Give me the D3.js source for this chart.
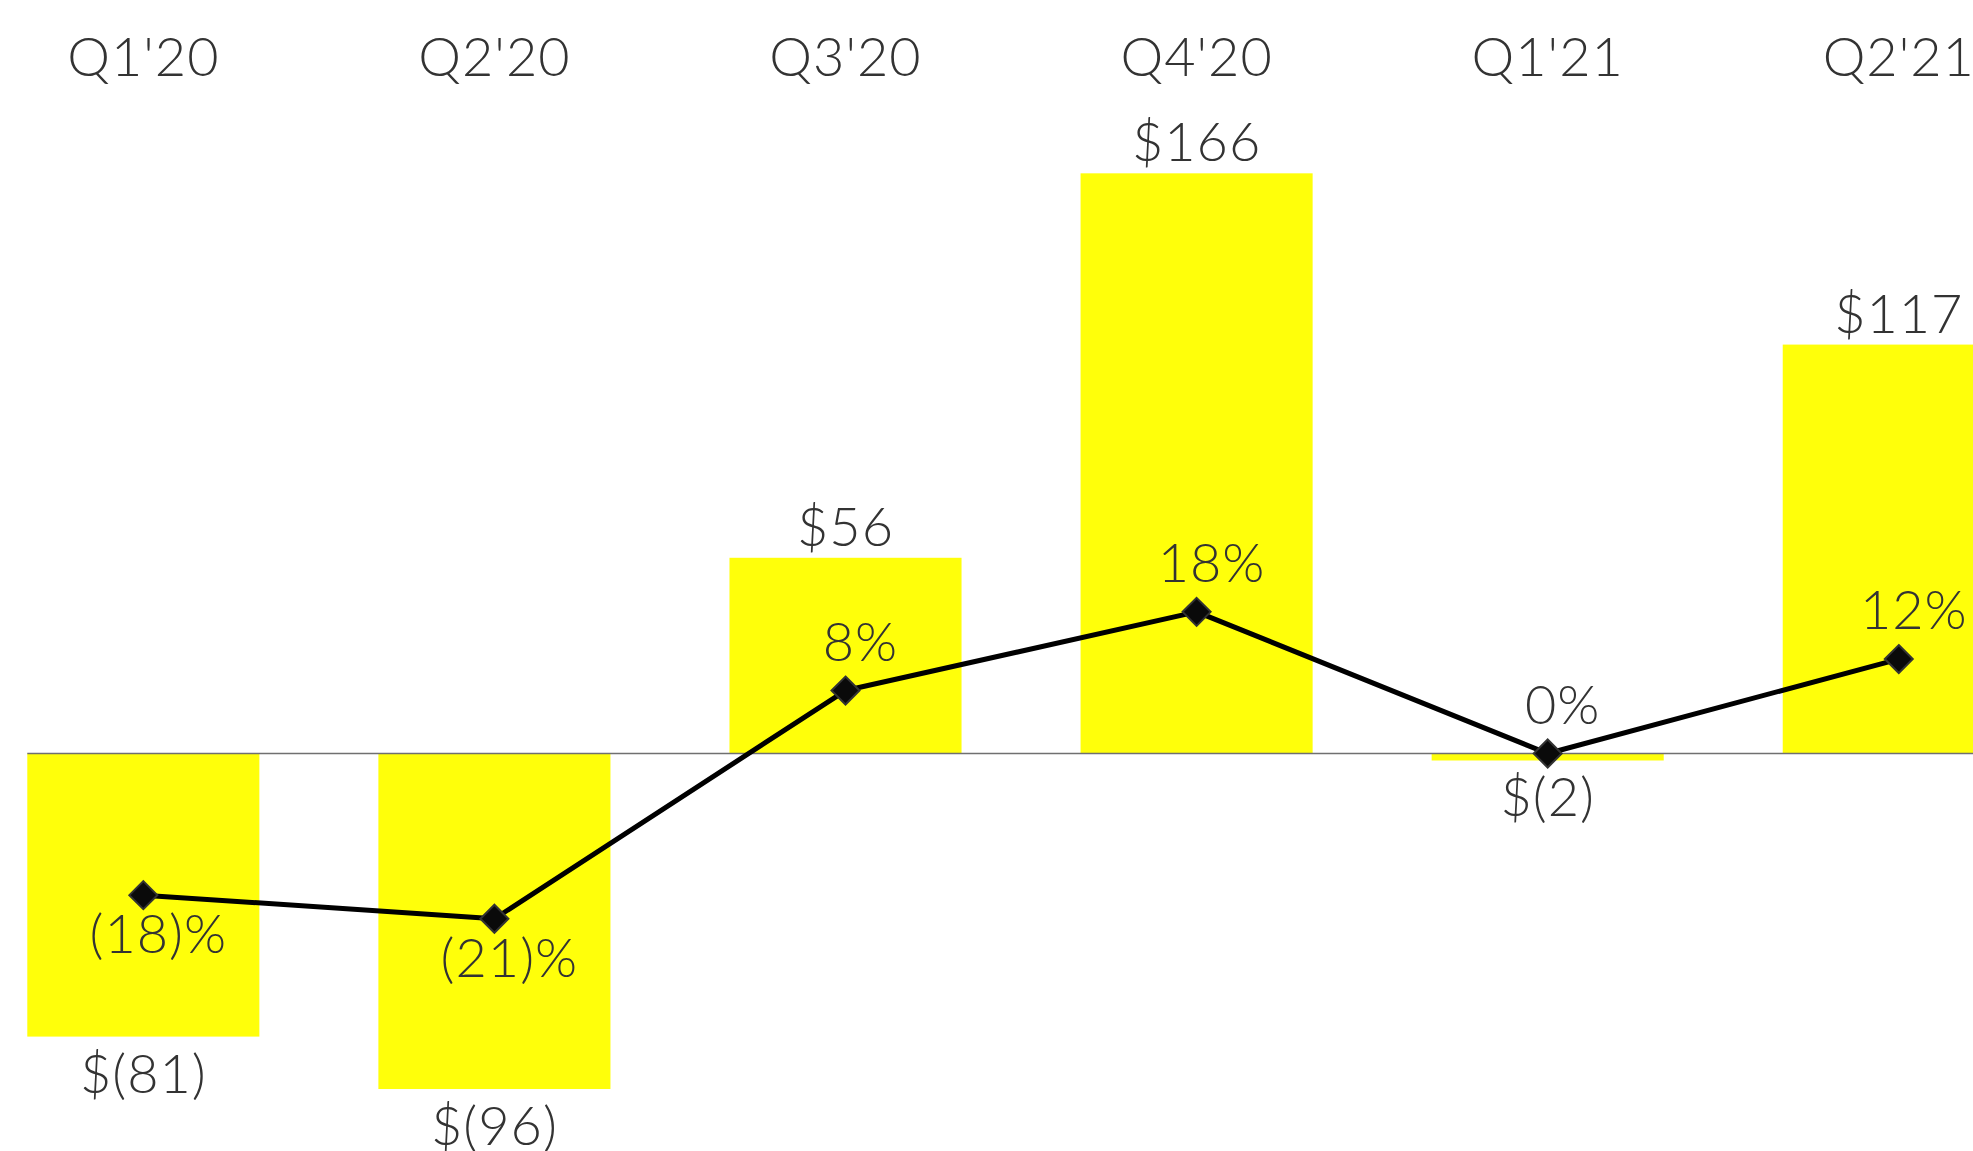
<html>
  <head>
    <script src="https://d3js.org/d3.v7.min.js"></script>
    <style>
      body { margin: 0; background: #fff; overflow: hidden; }
      text { font-family: Lato, "Noto Sans", sans-serif; font-weight: 300; fill: #333; letter-spacing: 1px; }
    </style>
  </head>
  <body>
    <svg id="chart" width="1973" height="1151"></svg>
    <script>
      // quarters, adjusted EBITDA ($M) and margin (%)
      const quarters = ["Q1'20", "Q2'20", "Q3'20", "Q4'20", "Q1'21", "Q2'21"];
      const ebitda = [-81, -96, 56, 166, -2, 117];
      const margin = [-18, -21, 8, 18, 0, 12];

      const svg = d3.select("#chart");

      // band scale runs past the right edge, last bar is clipped like the original
      const x = d3.scaleBand()
        .domain(quarters)
        .range([-32.25, 2074.35])
        .paddingInner(0.339)
        .paddingOuter(0.1696);

      const y = d3.scaleLinear().domain([-100, 200]).range([1103, 54.5]);
      const y2 = d3.scaleLinear().domain([-30, 30]).range([989.6, 517.4]);

      const cx = (d) => x(d) + x.bandwidth() / 2;
      const money = (v) => (v < 0 ? "$(" + Math.abs(v) + ")" : "$" + v);
      const pct = (v) => (v < 0 ? "(" + Math.abs(v) + ")%" : v + "%");

      const data = quarters.map((q, i) => ({ q: q, v: ebitda[i], m: margin[i] }));

      // bars
      svg.append("g")
        .selectAll("rect")
        .data(data)
        .join("rect")
        .attr("x", (d) => x(d.q))
        .attr("width", x.bandwidth())
        .attr("y", (d) => y(Math.max(0, d.v)))
        .attr("height", (d) => Math.abs(y(d.v) - y(0)))
        .style("fill", "#ffff0a");

      // zero line
      svg.append("line")
        .attr("x1", x(quarters[0]))
        .attr("x2", 1973)
        .attr("y1", y(0))
        .attr("y2", y(0))
        .style("stroke", "#707070")
        .style("stroke-width", 1.5);

      // category labels along the top
      svg.append("g")
        .selectAll("text")
        .data(quarters)
        .join("text")
        .attr("x", (d) => cx(d))
        .attr("y", 76)
        .attr("text-anchor", "middle")
        .style("font-size", "54px")
        .text((d) => d);

      // bar value labels
      svg.append("g")
        .selectAll("text")
        .data(data)
        .join("text")
        .attr("x", (d) => cx(d.q))
        .attr("y", (d) => (d.v < 0 ? y(d.v) + 56 : y(d.v) - 12))
        .attr("text-anchor", "middle")
        .style("font-size", "54px")
        .text((d) => money(d.v));

      // margin line
      const line = d3.line()
        .x((d) => cx(d.q))
        .y((d) => y2(d.m));

      svg.append("path")
        .datum(data)
        .attr("d", line)
        .style("fill", "none")
        .style("stroke", "#000")
        .style("stroke-width", 5)
        .style("stroke-linejoin", "round");

      svg.append("g")
        .selectAll("path")
        .data(data)
        .join("path")
        .attr("transform", (d) => "translate(" + cx(d.q) + "," + y2(d.m) + ")")
        .attr("d", "M0,-14L14,0L0,14L-14,0Z")
        .style("fill", "#0a0a0a")
        .style("stroke", "#333")
        .style("stroke-width", 2);

      // margin labels
      svg.append("g")
        .selectAll("text")
        .data(data)
        .join("text")
        .attr("x", (d) => cx(d.q) + 15)
        .attr("y", (d) => (d.m < 0 ? y2(d.m) + 58 : y2(d.m) - 30))
        .attr("text-anchor", "middle")
        .style("font-size", "54px")
        .text((d) => pct(d.m));
    </script>
  </body>
</html>
